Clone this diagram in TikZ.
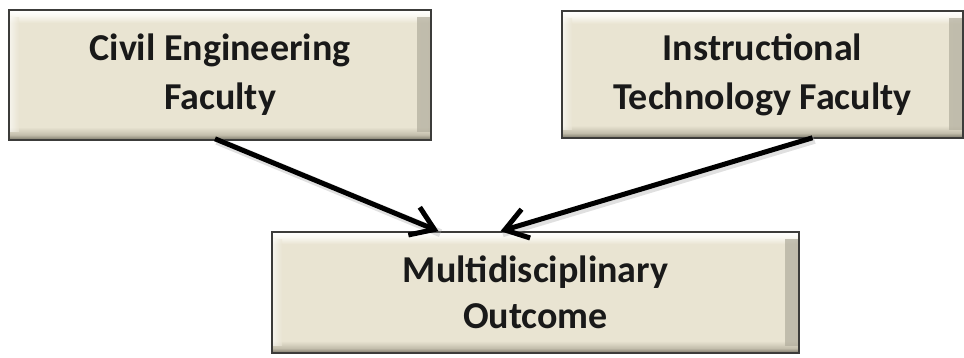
\documentclass[tikz,border=0pt]{standalone}
\usepackage{fontspec}
\setmainfont{Carlito}
\usetikzlibrary{arrows.meta,calc}
\definecolor{bevfill}{RGB}{233,228,210}
\definecolor{bevlight}{RGB}{250,249,243}
\definecolor{bevdark}{RGB}{120,117,102}
\definecolor{bevmid}{RGB}{195,190,172}
\definecolor{bevside}{RGB}{175,171,155}
\definecolor{bevline}{RGB}{60,60,58}
\definecolor{txtcol}{RGB}{25,25,25}
\pgfdeclareverticalshading{bevel}{100bp}{color(0bp)=(bevdark); color(25bp)=(bevdark); color(27bp)=(bevmid); color(30bp)=(bevfill); color(70bp)=(bevfill); color(73bp)=(bevlight); color(75bp)=(white); color(100bp)=(white)}
\tikzset{
  facbox/.style={rectangle, draw=bevline, line width=1.6pt, shading=bevel,
    text=txtcol, font=\fontsize{38}{49}\selectfont\bfseries, align=center, inner sep=0pt,
    path picture={
      \shade[left color=bevfill, right color=bevside, opacity=0.7]
        ([xshift=-14pt,yshift=-8pt]path picture bounding box.north east) rectangle ([yshift=8pt]path picture bounding box.south east);
      \shade[left color=white, right color=bevfill, opacity=0.6]
        ([yshift=-8pt]path picture bounding box.north west) rectangle ([xshift=10pt,yshift=8pt]path picture bounding box.south west);
    }},
  link/.style={line width=5pt, draw=black, -{Straight Barb[length=22pt,width=30pt,line width=5pt]},
    preaction={draw=black!35, opacity=0.35, line width=8pt, transform canvas={xshift=2pt,yshift=-2pt}, -}}
}
\begin{document}
\begin{tikzpicture}[x=1pt,y=-1pt]
\useasboundingbox (0,0) rectangle (964,358);
\node[facbox, minimum width=422pt, minimum height=130pt] (civ) at (220,75) {Civil Engineering\\Faculty};
\node[facbox, minimum width=401pt, minimum height=127pt] (ins) at (762.5,74.5) {Instructional\\Technology Faculty};
\node[facbox, minimum width=527pt, minimum height=121pt, font=\fontsize{38}{46}\selectfont\bfseries] (out) at (535.5,292.5) {Multidisciplinary\\Outcome};
\draw[link] ([xshift=-5pt,yshift=2pt]civ.south) -- ([xshift=-97pt]out.north);
\draw[link] ([xshift=50pt,yshift=1pt]ins.south) -- ([xshift=-35pt]out.north);
\end{tikzpicture}
\end{document}
